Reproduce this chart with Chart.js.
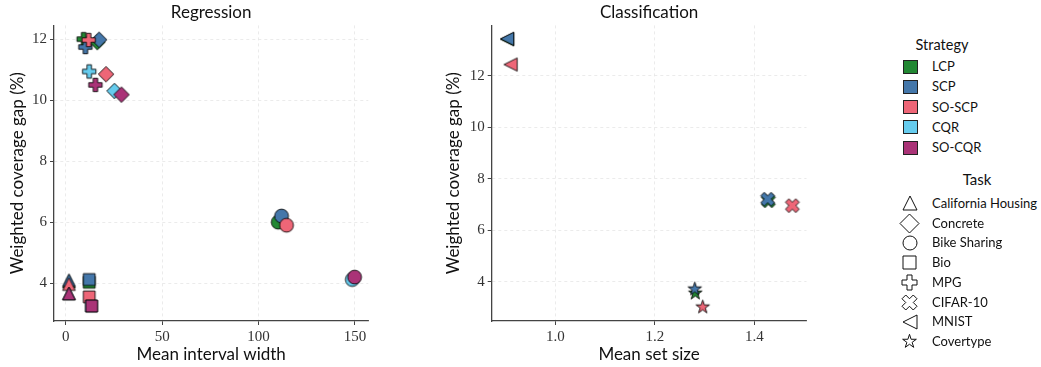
<!DOCTYPE html>
<html>
<head>
<meta charset="utf-8">
<script src="https://cdn.jsdelivr.net/npm/chart.js@4.4.0/dist/chart.umd.min.js"></script>
<style>
  body { margin: 0; background: #fff; width: 1041px; height: 367px; overflow: hidden; position: relative; font-family: Lato, sans-serif; color: #111; }
  canvas.plot { position: absolute; top: 0; }
  #reg { left: 0; }
  #cls { left: 436px; }
  .lg { position: absolute; white-space: nowrap; line-height: 1; }
</style>
</head>
<body>
<canvas id="reg" class="plot" width="400" height="367"></canvas>
<canvas id="cls" class="plot" width="400" height="367"></canvas>
<div id="legend"></div>
<script>
// strategies + colours
const strategies = ['LCP', 'SCP', 'SO-SCP', 'CQR', 'SO-CQR'];
const strategyColors = ['#228833', '#4477AA', '#EE6677', '#66CCEE', '#AA3377'];

// regression tasks (one value per task, same order)
const regTasks = ['California Housing', 'Concrete', 'Bike Sharing', 'Bio', 'MPG'];
const regShapes = ['triangle', 'diamond', 'circle', 'square', 'plus'];
const regWidth = {
  'LCP':    [1.7, 16.4, 110.2, 12.2, 9.3],
  'SCP':    [1.7, 17.3, 111.9, 12.2, 10.2],
  'SO-SCP': [1.7, 20.9, 114.5, 12.2, 11.9],
  'CQR':    [1.7, 25.3, 148.6, 13.3, 12.2],
  'SO-CQR': [1.7, 28.9, 149.8, 13.5, 15.4]
};
const regGap = {
  'LCP':    [4.05, 11.9, 6.0, 4.03, 12.0],
  'SCP':    [4.1, 11.98, 6.2, 4.12, 11.74],
  'SO-SCP': [3.97, 10.85, 5.9, 3.55, 11.97],
  'CQR':    [3.66, 10.3, 4.12, 3.25, 10.94],
  'SO-CQR': [3.66, 10.18, 4.2, 3.25, 10.5]
};

// classification tasks
const clsTasks = ['CIFAR-10', 'MNIST', 'Covertype'];
const clsShapes = ['xfill', 'tleft', 'star'];
const clsStrategies = ['LCP', 'SCP', 'SO-SCP'];
const clsSize = {
  'LCP':    [1.428, 0.903, 1.281],
  'SCP':    [1.4265, 0.903, 1.280],
  'SO-SCP': [1.476, 0.910, 1.296]
};
const clsGap = {
  'LCP':    [7.15, 13.42, 3.56],
  'SCP':    [7.21, 13.44, 3.72],
  'SO-SCP': [6.96, 12.44, 3.02]
};

// ticks
const regXTicks = [0, 50, 100, 150];
const regXTickLabels = ['0', '50', '100', '150'];
const regYTicks = [4, 6, 8, 10, 12];
const regYTickLabels = ['4', '6', '8', '10', '12'];
const clsXTicks = [1.0, 1.2, 1.4];
const clsXTickLabels = ['1.0', '1.2', '1.4'];
const clsYTicks = [4, 6, 8, 10, 12];
const clsYTickLabels = ['4', '6', '8', '10', '12'];

const legendTasks = ['California Housing', 'Concrete', 'Bike Sharing', 'Bio', 'MPG', 'CIFAR-10', 'MNIST', 'Covertype'];
const legendShapes = ['triangle', 'diamond', 'circle', 'square', 'plus', 'xfill', 'tleft', 'star'];

// marker geometry
const polys = {
  triangle: [[0, -1], [-1, 1], [1, 1]],
  diamond: [[0, -1], [1, 0], [0, 1], [-1, 0]],
  tleft: [[-1, 0], [1, -1], [1, 1]],
  plus: [[-1, -3], [1, -3], [1, -1], [3, -1], [3, 1], [1, 1], [1, 3], [-1, 3], [-1, 1], [-3, 1], [-3, -1], [-1, -1]].map(p => [p[0] / 3, p[1] / 3]),
  xfill: [[-1, -2], [0, -1], [1, -2], [2, -1], [1, 0], [2, 1], [1, 2], [0, 1], [-1, 2], [-2, 1], [-1, 0], [-2, -1]].map(p => [p[0] / 2, p[1] / 2])
};
(function () {
  const pts = [];
  for (let i = 0; i < 10; i++) {
    const a = -Math.PI / 2 + i * Math.PI / 5;
    const rr = i % 2 ? 0.382 : 1;
    pts.push([rr * Math.cos(a), rr * Math.sin(a)]);
  }
  polys.star = pts;
})();

const plotR = { circle: 6.9, square: 5.9, diamond: 7.7, triangle: 6.3, plus: 6.7, xfill: 6.9, tleft: 6.6, star: 7.1 };
const legendR = { circle: 7, square: 6.5, diamond: 9.5, triangle: 7, plus: 7.5, xfill: 7.5, tleft: 7, star: 7.2 };

function makeMarker(shape, fill, r, lw) {
  const size = Math.ceil(2 * r + 6);
  const c = document.createElement('canvas');
  c.width = size; c.height = size;
  const ctx = c.getContext('2d');
  ctx.translate(size / 2, size / 2);
  ctx.beginPath();
  if (shape === 'circle') ctx.arc(0, 0, r, 0, Math.PI * 2);
  else if (shape === 'square') ctx.rect(-r, -r, 2 * r, 2 * r);
  else {
    polys[shape].forEach((p, i) => i ? ctx.lineTo(p[0] * r, p[1] * r) : ctx.moveTo(p[0] * r, p[1] * r));
    ctx.closePath();
  }
  if (fill) { ctx.fillStyle = fill; ctx.fill(); }
  ctx.lineJoin = 'miter';
  ctx.lineWidth = lw;
  ctx.strokeStyle = fill ? 'rgba(0,0,0,0.85)' : '#111';
  ctx.stroke();
  return c;
}

function axis(title, min, max, ticks, labels, size, isX) {
  return {
    type: 'linear',
    min: min, max: max,
    afterBuildTicks: s => { s.ticks = ticks.map(v => ({ value: v })); },
    afterFit: s => { if (isX) s.height = size; else s.width = size; },
    grid: { color: '#e6e6e6', lineWidth: 0.8, tickLength: 4, tickColor: '#444', tickWidth: 1 },
    border: { display: true, color: '#444', width: 1.3, dash: [3, 3] },
    ticks: {
      font: { family: 'Liberation Serif', size: 15 },
      color: '#333',
      padding: 3,
      maxRotation: 0,
      callback: (v, i) => labels[i]
    },
    title: {
      display: true, text: title, color: '#111',
      font: { family: 'Lato', size: 17 },
      padding: isX ? { top: 0, bottom: 2 } : { top: 7, bottom: 0 }
    }
  };
}

function buildDatasets(strats, xs, ys, shapes) {
  return strats.map((s, k) => {
    const col = strategyColors[strategies.indexOf(s)];
    const markers = shapes.map(sh => makeMarker(sh, col, plotR[sh], 1));
    return {
      label: s,
      data: xs[s].map((x, i) => ({ x: x, y: ys[s][i] })),
      pointStyle: markers,
      pointRadius: 7,
      order: strats.length - k
    };
  });
}

function makeChart(id, title, datasets, xAxis, yAxis, rightPad) {
  new Chart(document.getElementById(id), {
    type: 'scatter',
    data: { datasets: datasets },
    options: {
      responsive: false,
      animation: false,
      devicePixelRatio: 1,
      layout: { padding: { left: 0, right: rightPad, top: 0, bottom: 0 } },
      plugins: {
        legend: { display: false },
        tooltip: { enabled: false },
        title: {
          display: true, text: title, fullSize: false, color: '#111',
          font: { family: 'Lato', size: 17, weight: 'normal' },
          padding: { top: 2, bottom: 3 }
        }
      },
      scales: { x: xAxis, y: yAxis }
    }
  });
}

makeChart('reg', 'Regression',
  buildDatasets(strategies, regWidth, regGap, regShapes),
  axis('Mean interval width', -6.07, 156.9, regXTicks, regXTickLabels, 46, true),
  axis('Weighted coverage gap (%)', 2.76, 12.45, regYTicks, regYTickLabels, 54, false),
  31.7);

makeChart('cls', 'Classification',
  buildDatasets(clsStrategies, clsSize, clsGap, clsShapes),
  axis('Mean set size', 0.872, 1.5045, clsXTicks, clsXTickLabels, 46, true),
  axis('Weighted coverage gap (%)', 2.48, 13.96, clsYTicks, clsYTickLabels, 55.7, false),
  29.5);

// legend
const lg = document.getElementById('legend');
function addText(txt, left, cy, size, center) {
  const d = document.createElement('div');
  d.className = 'lg';
  d.textContent = txt;
  d.style.fontSize = size + 'px';
  d.style.top = (cy - size / 2) + 'px';
  if (center) { d.style.left = left + 'px'; d.style.transform = 'translateX(-50%)'; }
  else d.style.left = left + 'px';
  lg.appendChild(d);
}
addText('Strategy', 942, 45, 14.5, true);
strategies.forEach((s, i) => {
  const cy = 66.7 + 20.2 * i;
  const p = document.createElement('div');
  p.style.cssText = 'position:absolute;left:903px;width:13px;height:12px;border:1px solid #222;background:' + strategyColors[i] + ';top:' + (cy - 7) + 'px';
  lg.appendChild(p);
  addText(s, 932, cy, 13, false);
});
addText('Task', 977, 179, 15, true);
legendTasks.forEach((t, i) => {
  const cy = 203.3 + 19.77 * i;
  const m = makeMarker(legendShapes[i], null, legendR[legendShapes[i]], 1);
  m.style.position = 'absolute';
  m.style.left = (909.5 - m.width / 2) + 'px';
  m.style.top = (cy - m.height / 2) + 'px';
  lg.appendChild(m);
  addText(t, 932, cy, 13, false);
});
</script>
</body>
</html>
